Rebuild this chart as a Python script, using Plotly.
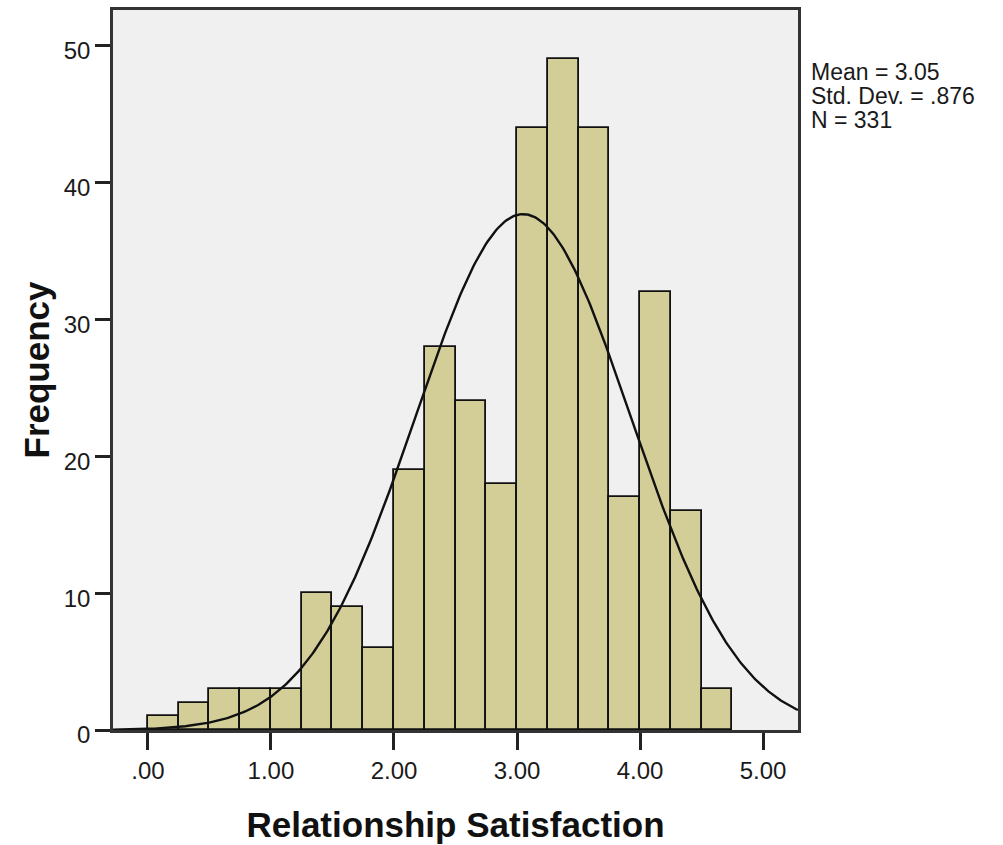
import numpy as np
import plotly.graph_objects as go

bin_starts = [0.00, 0.25, 0.50, 0.75, 1.00, 1.25, 1.50, 1.75, 2.00, 2.25,
              2.50, 2.75, 3.00, 3.25, 3.50, 3.75, 4.00, 4.25, 4.50]
frequencies = [1, 2, 3, 3, 3, 10, 9, 6, 19, 28, 24, 18, 44, 49, 44, 17, 32, 16, 3]
bin_width = 0.25
mean_val = 3.05
sd_val = 0.876
n_val = 331
x_tick_vals = [0, 1, 2, 3, 4, 5]
x_tick_text = [".00", "1.00", "2.00", "3.00", "4.00", "5.00"]
y_tick_vals = [0, 10, 20, 30, 40, 50]
stats_lines = ["Mean = 3.05", "Std. Dev. = .876", "N = 331"]

x_range = [-0.284, 5.284]
y_range = [0, 52.6]

centers = [s + bin_width / 2 for s in bin_starts]

xs = np.linspace(x_range[0], x_range[1], 400)
ys = n_val * bin_width / (sd_val * np.sqrt(2 * np.pi)) * np.exp(-0.5 * ((xs - mean_val) / sd_val) ** 2)

fig = go.Figure()
fig.add_trace(go.Bar(
    x=centers, y=frequencies, width=bin_width,
    marker=dict(color="#d3ce98", line=dict(color="#111111", width=1.8)),
    hoverinfo="x+y", showlegend=False,
))
fig.add_trace(go.Scatter(
    x=xs, y=ys, mode="lines",
    line=dict(color="#111111", width=2.4), showlegend=False, hoverinfo="skip",
))

FONT = "Liberation Sans, Arial, sans-serif"
axis_font = dict(family=FONT, size=24, color="#1a1a1a")
title_font = dict(family=FONT, size=35, color="#111111")

annotations = []
for i, line in enumerate(stats_lines):
    annotations.append(dict(
        xref="paper", yref="paper", x=1.0, y=1.0, xanchor="left", yanchor="top",
        xshift=12, yshift=-(48 + i * 24), align="left", showarrow=False,
        borderpad=0,
        text=line, font=dict(family=FONT, size=23, color="#1a1a1a"),
    ))

fig.update_layout(
    width=1003, height=845,
    margin=dict(l=113, r=205, t=7, b=111),
    paper_bgcolor="white", plot_bgcolor="#f0f0f0",
    bargap=0,
    xaxis=dict(
        range=x_range, tickvals=x_tick_vals, ticktext=x_tick_text,
        ticks="outside", ticklen=17, tickwidth=2.5, tickcolor="#222222",
        showline=True, linecolor="#333333", linewidth=2.5, mirror=True,
        showgrid=False, zeroline=False, tickfont=axis_font,
        title=dict(text="<b>Relationship Satisfaction</b>", font=title_font, standoff=30),
    ),
    yaxis=dict(
        range=y_range, tickvals=y_tick_vals,
        ticks="outside", ticklen=15, tickwidth=2.5, tickcolor="#222222",
        showline=True, linecolor="#333333", linewidth=2.5, mirror=True,
        showgrid=False, zeroline=False, tickfont=axis_font, ticklabelshift=5,
        title=dict(text="<b>Frequency</b>", font=title_font, standoff=4),
    ),
    annotations=annotations,
)

fig.write_html("out.html", config={"displayModeBar": False},
               post_script="document.body.style.margin='0px';")
